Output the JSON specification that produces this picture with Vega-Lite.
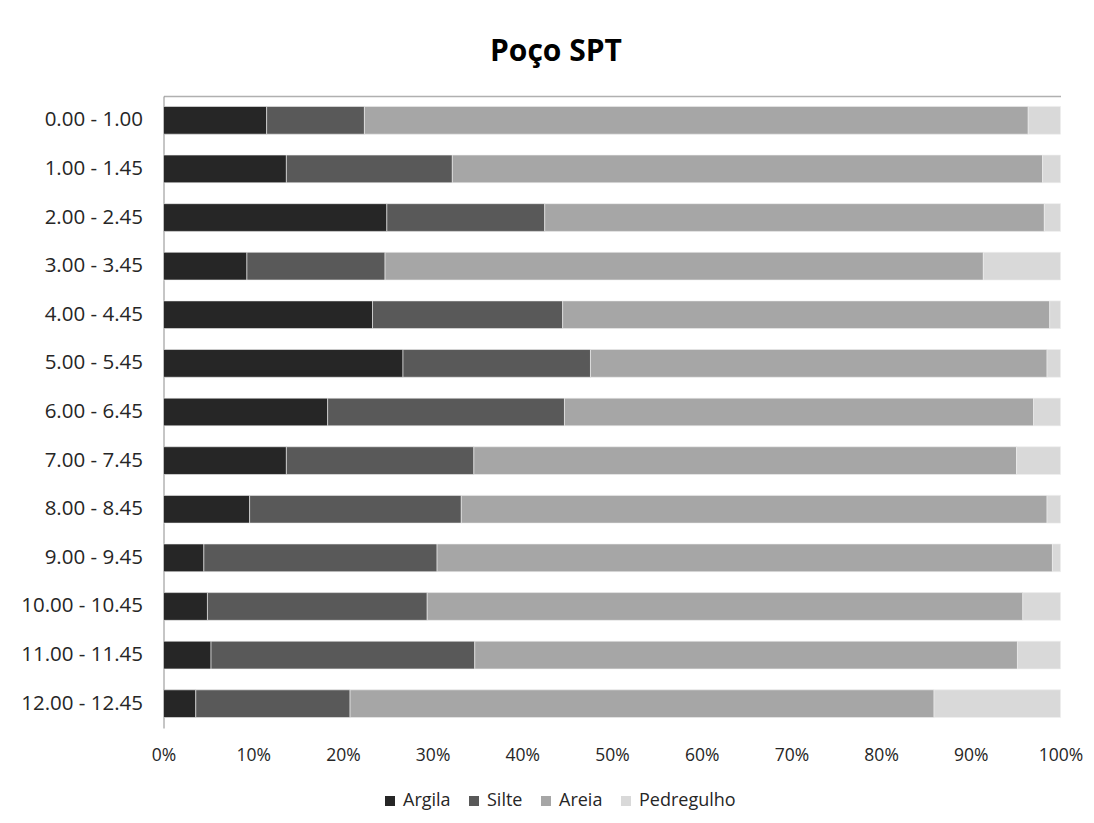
{
  "$schema": "https://vega.github.io/schema/vega-lite/v6.json",
  "autosize": "none",
  "width": 897,
  "height": 632,
  "padding": {"left": 163.5, "top": 96, "right": 33.5, "bottom": 95},
  "background": "white",
  "config": {
    "font": "Open Sans",
    "view": {"stroke": null},
    "axis": {"labelFont": "Open Sans", "labelColor": "#262626", "grid": false, "ticks": false, "title": null},
    "legend": {"labelFont": "Open Sans", "labelColor": "#262626", "labelFontSize": 18}
  },
  "title": {
    "text": "Poço SPT",
    "font": "Open Sans",
    "fontSize": 30,
    "fontWeight": "bold",
    "color": "#000000",
    "anchor": "middle",
    "dx": -56,
    "offset": 29
  },
  "data": {
    "values": [
      {"prof": "0.00 - 1.00", "comp": "Argila", "v": 11.5},
      {"prof": "0.00 - 1.00", "comp": "Silte", "v": 10.9},
      {"prof": "0.00 - 1.00", "comp": "Areia", "v": 74.0},
      {"prof": "0.00 - 1.00", "comp": "Pedregulho", "v": 3.6},
      {"prof": "1.00 - 1.45", "comp": "Argila", "v": 13.7},
      {"prof": "1.00 - 1.45", "comp": "Silte", "v": 18.5},
      {"prof": "1.00 - 1.45", "comp": "Areia", "v": 65.8},
      {"prof": "1.00 - 1.45", "comp": "Pedregulho", "v": 2.0},
      {"prof": "2.00 - 2.45", "comp": "Argila", "v": 24.9},
      {"prof": "2.00 - 2.45", "comp": "Silte", "v": 17.6},
      {"prof": "2.00 - 2.45", "comp": "Areia", "v": 55.7},
      {"prof": "2.00 - 2.45", "comp": "Pedregulho", "v": 1.8},
      {"prof": "3.00 - 3.45", "comp": "Argila", "v": 9.3},
      {"prof": "3.00 - 3.45", "comp": "Silte", "v": 15.4},
      {"prof": "3.00 - 3.45", "comp": "Areia", "v": 66.7},
      {"prof": "3.00 - 3.45", "comp": "Pedregulho", "v": 8.6},
      {"prof": "4.00 - 4.45", "comp": "Argila", "v": 23.3},
      {"prof": "4.00 - 4.45", "comp": "Silte", "v": 21.2},
      {"prof": "4.00 - 4.45", "comp": "Areia", "v": 54.3},
      {"prof": "4.00 - 4.45", "comp": "Pedregulho", "v": 1.2},
      {"prof": "5.00 - 5.45", "comp": "Argila", "v": 26.7},
      {"prof": "5.00 - 5.45", "comp": "Silte", "v": 20.9},
      {"prof": "5.00 - 5.45", "comp": "Areia", "v": 50.9},
      {"prof": "5.00 - 5.45", "comp": "Pedregulho", "v": 1.5},
      {"prof": "6.00 - 6.45", "comp": "Argila", "v": 18.3},
      {"prof": "6.00 - 6.45", "comp": "Silte", "v": 26.4},
      {"prof": "6.00 - 6.45", "comp": "Areia", "v": 52.3},
      {"prof": "6.00 - 6.45", "comp": "Pedregulho", "v": 3.0},
      {"prof": "7.00 - 7.45", "comp": "Argila", "v": 13.7},
      {"prof": "7.00 - 7.45", "comp": "Silte", "v": 20.9},
      {"prof": "7.00 - 7.45", "comp": "Areia", "v": 60.5},
      {"prof": "7.00 - 7.45", "comp": "Pedregulho", "v": 4.9},
      {"prof": "8.00 - 8.45", "comp": "Argila", "v": 9.6},
      {"prof": "8.00 - 8.45", "comp": "Silte", "v": 23.6},
      {"prof": "8.00 - 8.45", "comp": "Areia", "v": 65.3},
      {"prof": "8.00 - 8.45", "comp": "Pedregulho", "v": 1.5},
      {"prof": "9.00 - 9.45", "comp": "Argila", "v": 4.5},
      {"prof": "9.00 - 9.45", "comp": "Silte", "v": 26.0},
      {"prof": "9.00 - 9.45", "comp": "Areia", "v": 68.6},
      {"prof": "9.00 - 9.45", "comp": "Pedregulho", "v": 0.9},
      {"prof": "10.00 - 10.45", "comp": "Argila", "v": 4.9},
      {"prof": "10.00 - 10.45", "comp": "Silte", "v": 24.5},
      {"prof": "10.00 - 10.45", "comp": "Areia", "v": 66.4},
      {"prof": "10.00 - 10.45", "comp": "Pedregulho", "v": 4.2},
      {"prof": "11.00 - 11.45", "comp": "Argila", "v": 5.3},
      {"prof": "11.00 - 11.45", "comp": "Silte", "v": 29.4},
      {"prof": "11.00 - 11.45", "comp": "Areia", "v": 60.5},
      {"prof": "11.00 - 11.45", "comp": "Pedregulho", "v": 4.8},
      {"prof": "12.00 - 12.45", "comp": "Argila", "v": 3.6},
      {"prof": "12.00 - 12.45", "comp": "Silte", "v": 17.2},
      {"prof": "12.00 - 12.45", "comp": "Areia", "v": 65.1},
      {"prof": "12.00 - 12.45", "comp": "Pedregulho", "v": 14.1}
    ]
  },
  "transform": [
    {"calculate": "indexof(['Argila', 'Silte', 'Areia', 'Pedregulho'], datum.comp)", "as": "stackOrder"}
  ],
  "layer": [
    {
      "mark": {"type": "bar", "stroke": "#efefef", "strokeWidth": 0.6},
      "encoding": {
        "y": {
          "field": "prof",
          "type": "nominal",
          "sort": null,
          "scale": {"paddingInner": 0.43, "paddingOuter": 0.215},
          "axis": {"domainColor": "#8c8c8c", "domainWidth": 1, "labelPadding": 21, "labelAlign": "right", "labelFontSize": 20.5}
        },
        "x": {
          "field": "v",
          "type": "quantitative",
          "stack": "normalize",
          "scale": {"domain": [0, 1]},
          "axis": {"format": "%", "values": [0, 0.1, 0.2, 0.3, 0.4, 0.5, 0.6, 0.7, 0.8, 0.9, 1], "domain": false, "labelPadding": 18, "labelFlush": false, "labelFontSize": 17.5}
        },
        "order": {"field": "stackOrder", "type": "quantitative", "sort": "ascending"},
        "color": {
          "field": "comp",
          "type": "nominal",
          "sort": ["Argila", "Silte", "Areia", "Pedregulho"],
          "scale": {"domain": ["Argila", "Silte", "Areia", "Pedregulho"], "range": ["#262626", "#595959", "#a6a6a6", "#d9d9d9"]},
          "legend": {
            "title": null,
            "orient": "none",
            "legendX": 217.5,
            "legendY": 696,
            "direction": "horizontal",
            "columns": 4,
            "columnPadding": 14,
            "symbolType": "square",
            "symbolSize": 100,
            "symbolStrokeWidth": 0,
            "labelOffset": 4
          }
        }
      }
    },
    {
      "mark": {"type": "rule", "opacity": 0},
      "encoding": {
        "x": {
          "datum": 0,
          "type": "quantitative",
          "axis": {"orient": "top", "labels": false, "ticks": false, "domain": true, "domainColor": "#b0b0b0", "domainWidth": 1.5}
        }
      }
    }
  ],
  "resolve": {"axis": {"x": "independent"}}
}
